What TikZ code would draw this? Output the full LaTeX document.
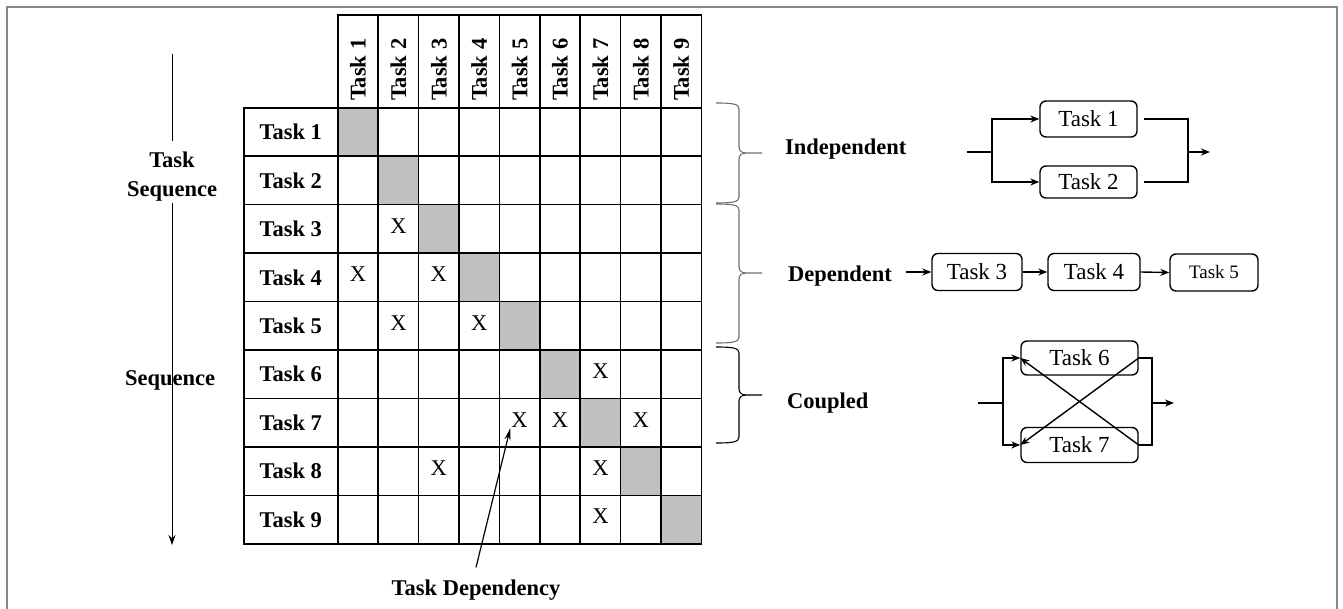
\documentclass[tikz,border=0pt]{standalone}
\usepackage{fontspec}
\setmainfont{Liberation Serif}
\usetikzlibrary{arrows.meta,calc}
\definecolor{diaggray}{RGB}{192,192,192}
\definecolor{bracegray}{RGB}{110,110,110}
\definecolor{framegray}{RGB}{135,135,135}
\newcommand\drawbrace[4]{%
  \draw[#1] (716,#2) .. controls (733,#2) and (739,{#2+1}) .. (739,{#2+6})
     -- (739,{#3-6}) .. controls (739,{#3-2}) and (742,#3) .. (746,#3) -- (762,#3);
  \draw[#1] (746,#3) .. controls (742,#3) and (739,{#3+2}) .. (739,{#3+6})
     -- (739,{#4-6}) .. controls (739,{#4-1}) and (733,#4) .. (716,#4);}
\begin{document}
\begin{tikzpicture}[x=1pt,y=-1pt,
  cell/.style={draw, line width=1.6pt, minimum width=40.4pt, minimum height=48.44pt, inner sep=0pt, anchor=north west},
  rowhead/.style={draw, line width=1.6pt, minimum width=94pt, minimum height=48.44pt, inner sep=0pt, anchor=north west,
    font=\bfseries\fontsize{22.5}{26}\selectfont},
  headbox/.style={draw, line width=1.6pt, minimum width=40.4pt, minimum height=93pt, inner sep=0pt, anchor=north west},
  headlab/.style={rotate=90, inner sep=0pt, font=\bfseries\fontsize{22.5}{26}\selectfont},
  xm/.style={inner sep=1pt, font=\fontsize{22.5}{26}\selectfont},
  lab/.style={inner sep=0pt, font=\bfseries\fontsize{22.5}{29}\selectfont},
  task/.style={draw, line width=1.4pt, rounded corners=6pt, inner sep=0pt, font=\fontsize{23}{26}\selectfont},
  conn/.style={line width=1.4pt},
  arr/.style={line width=1.4pt, -{Stealth[length=9pt,width=7pt]}},
]
\useasboundingbox (0,0) rectangle (1343,609);
% outer frame (bottom edge lies outside the picture)
\draw[framegray, line width=1.8pt] (7,609) -- (7,7) -- (1337,7) -- (1337,609);

% diagonal fills
\foreach \i in {1,...,9}
  \fill[diaggray] ({337+(\i-1)*40.4},{107+(\i-1)*48.44}) rectangle ++(40.4,48.44);

% matrix
\foreach \i in {1,...,9} {
  \node[rowhead] (r\i) at (243,{107+(\i-1)*48.44}) {Task \i};
  \node[headbox] (h\i) at ({337+(\i-1)*40.4},14) {};
  \node[headlab] (hl\i) at ($(h\i.center)+(0,8.5)$) {Task \i};
  \foreach \j in {1,...,9}
    \node[cell] (c-\i-\j) at ({337+(\j-1)*40.4},{107+(\i-1)*48.44}) {};
}
\foreach \i/\j in {3/2,4/1,4/3,5/2,5/4,6/7,7/5,7/6,7/8,8/3,8/7,9/7}
  \node[xm] (x-\i-\j) at ($(c-\i-\j.center)+(0,-3)$) {X};

% task dependency
\node[lab, anchor=base, outer sep=12pt] (dep) at (476,595) {Task Dependency};
\draw[line width=1.2pt, -{Stealth[length=12pt,width=6pt]}] (dep.north) -- (x-7-5.south west);

% left axis
\coordinate (axTop) at (172,54);
\coordinate (axMidA) at (172,141);
\coordinate (axMidB) at (172,203);
\coordinate (axBot) at (172,545);
\node[lab, align=center, anchor=base] (tseq) at (172,197) {Task\\Sequence};
\draw[line width=1pt] (axTop) -- (axMidA);
\draw[line width=1pt, -{Stealth[length=10pt,width=7pt]}] (axMidB) -- (axBot);
\node[lab, anchor=base] (seq) at (170,385) {Sequence};

% braces
\drawbrace{bracegray, line width=1.1pt}{103}{153}{203}
\drawbrace{bracegray, line width=1.1pt}{204}{273}{343}
\drawbrace{black, line width=1.1pt}{347}{395}{443}

\node[lab, anchor=base west] (lind) at (785,155) {Independent};
\node[lab, anchor=base west] (ldep) at (788,282) {Dependent};
\node[lab, anchor=base west] (lcou) at (787,408) {Coupled};

% independent
\node[task, minimum width=97pt, minimum height=36pt] (t1) at (1088.5,119) {Task 1};
\node[task, minimum width=97pt, minimum height=32pt] (t2) at (1088.5,182) {Task 2};
\coordinate (in1) at (967,152);
\coordinate (j1) at (992,152);
\coordinate (jo1) at (1188,152);
\coordinate (out1) at (1210,152);
\draw[conn] (in1) -- (j1);
\draw[arr] (j1) |- (t1.west);
\draw[arr] (j1) |- (t2.west);
\draw[conn, shorten <=6pt] (t1.east) -| (jo1);
\draw[conn, shorten <=6pt] (t2.east) -| (jo1);
\draw[arr] (jo1) -- (out1);

% dependent
\node[task, minimum width=90pt, minimum height=37pt] (t3) at (977,272) {Task 3};
\node[task, minimum width=92pt, minimum height=37pt] (t4) at (1094,272) {Task 4};
\node[task, minimum width=88pt, minimum height=37pt, font=\fontsize{19}{22}\selectfont] (t5) at (1214,272.5) {Task 5};
\coordinate (in2) at (906,272);
\draw[arr] (in2) -- (t3.west);
\draw[arr] (t3.east) -- (t4.west);
\draw[arr] (t4.east) -- (t5.west);

% coupled
\node[task, minimum width=117pt, minimum height=34pt] (t6) at (1079.5,358) {Task 6};
\node[task, minimum width=117pt, minimum height=35pt] (t7) at (1079.5,445) {Task 7};
\coordinate (in3) at (978,403);
\coordinate (j3) at (1003,403);
\coordinate (jo3) at (1152,403);
\coordinate (out3) at (1174,403);
\draw[conn] (in3) -- (j3);
\draw[arr] (j3) |- (t6.west);
\draw[arr] (j3) |- (t7.west);
\draw[conn] (t6.east) -| (jo3);
\draw[conn] (t7.east) -| (jo3);
\draw[arr] (jo3) -- (out3);
\draw[arr] (t6.east) -- (t7.west);
\draw[arr] (t7.east) -- (t6.west);
\end{tikzpicture}
\end{document}
